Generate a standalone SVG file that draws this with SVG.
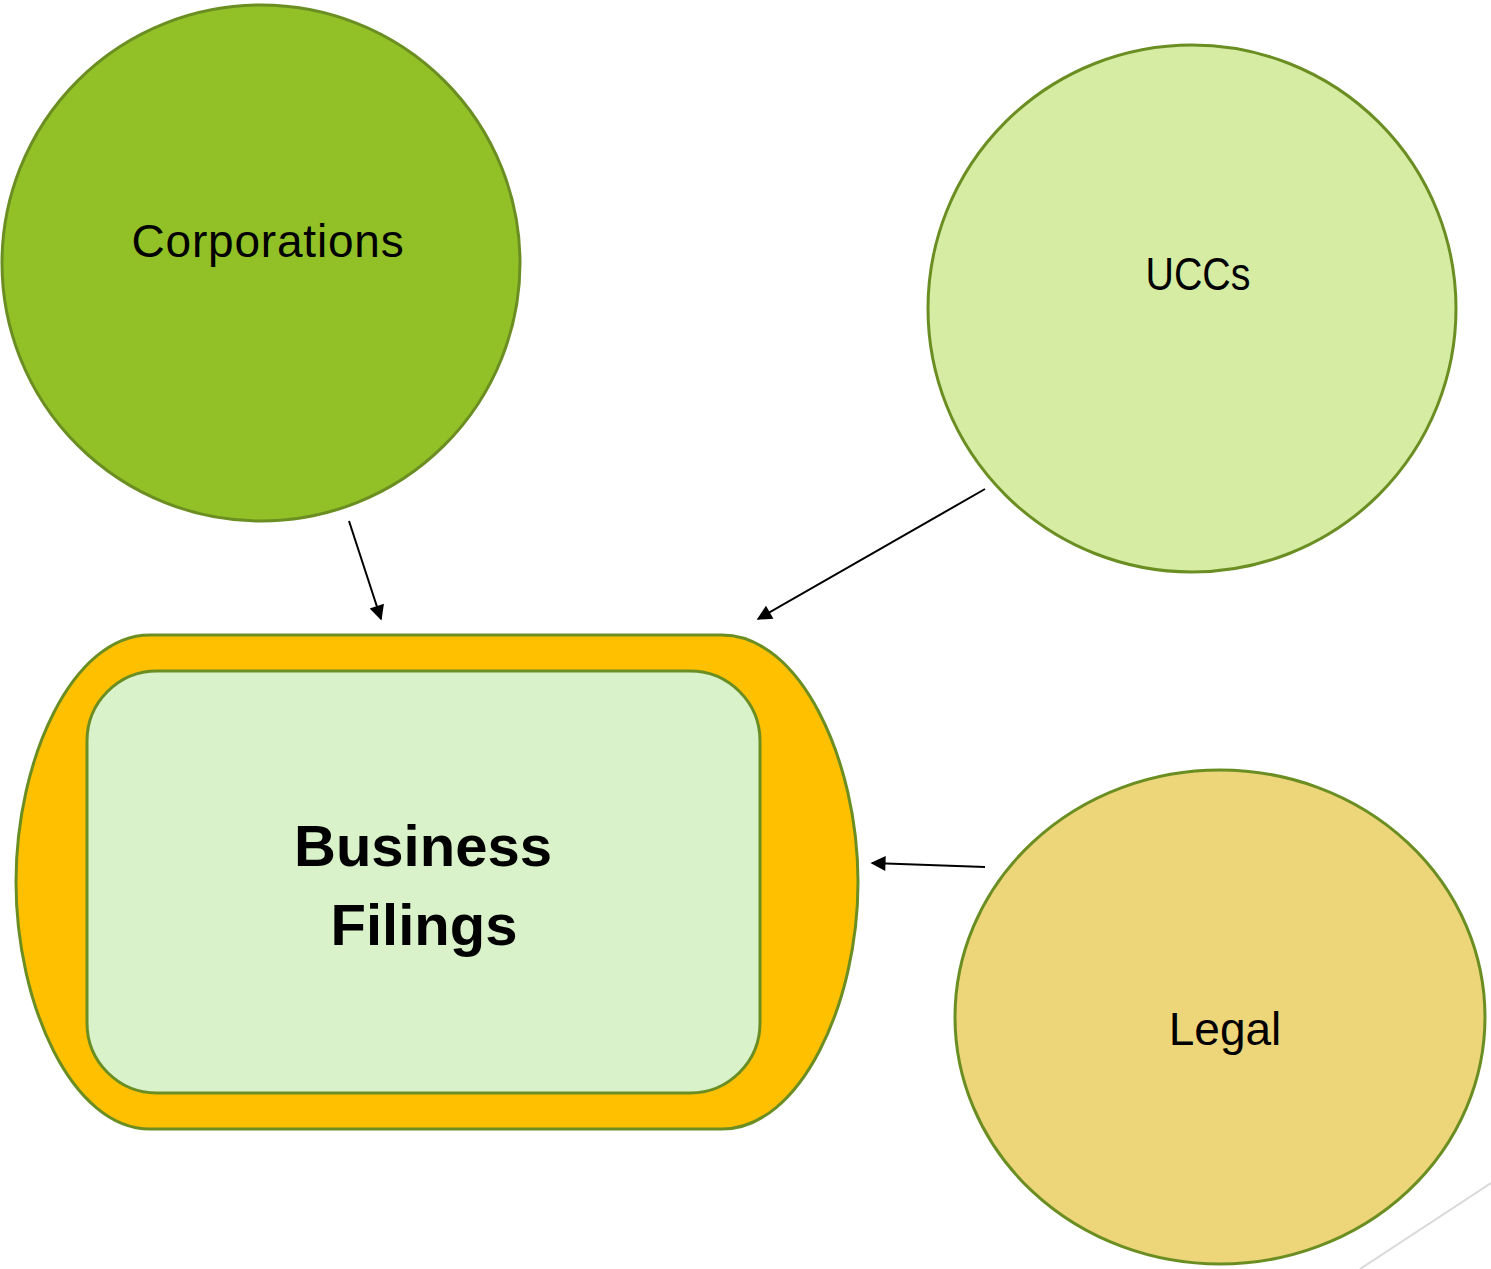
<svg xmlns="http://www.w3.org/2000/svg" width="1491" height="1269" viewBox="0 0 1491 1269">
<style>
.node{stroke:#6B8E23;stroke-width:3}
.lbl{font-family:"Liberation Sans",Arial,sans-serif;fill:#000;text-anchor:middle}
.conn{stroke:#000;stroke-width:2;fill:none;marker-end:url(#ah)}
</style>
<defs>
<marker id="ah" viewBox="0 0 10 10" refX="9" refY="5" markerWidth="8.5" markerHeight="7.5" markerUnits="strokeWidth" orient="auto">
<path d="M0 0 L10 5 L0 10 Z" fill="#000"/>
</marker>
</defs>
<rect width="1491" height="1269" fill="#fff"/>
<g id="corporations">
<ellipse class="node" cx="261" cy="263" rx="259" ry="258" fill="#92C027"/>
<text class="lbl" x="268" y="257" font-size="46" letter-spacing="0.8">Corporations</text>
</g>
<g id="uccs">
<ellipse class="node" cx="1192" cy="308.5" rx="264" ry="263.5" fill="#D5ECA2"/>
<text class="lbl" x="1198" y="290" font-size="46" textLength="105" lengthAdjust="spacingAndGlyphs">UCCs</text>
</g>
<g id="legal">
<ellipse class="node" cx="1220" cy="1017" rx="265" ry="247" fill="#EDD57A"/>
<text class="lbl" x="1225" y="1045" font-size="46">Legal</text>
</g>
<g id="business-filings">
<path class="node" d="M150 635 H722 C800 635 858 760 858 882 C858 1004 800 1129 722 1129 H150 C72 1129 16 1004 16 882 C16 760 72 635 150 635 Z" fill="#FFC000"/>
<rect class="node" x="87" y="671" width="673" height="422" rx="70" fill="#DAF2CA"/>
<text class="lbl" x="423" y="866" font-size="58" font-weight="bold">Business</text>
<text class="lbl" x="424" y="945" font-size="58" font-weight="bold">Filings</text>
</g>
<g id="connectors">
<line class="conn" x1="349" y1="521" x2="381" y2="619"/>
<line class="conn" x1="985" y1="489" x2="758" y2="619"/>
<line class="conn" x1="985" y1="867" x2="872" y2="863"/>
</g>
<line x1="1360" y1="1269" x2="1491" y2="1183" stroke="#D9D9D9" stroke-width="2"/>
</svg>
